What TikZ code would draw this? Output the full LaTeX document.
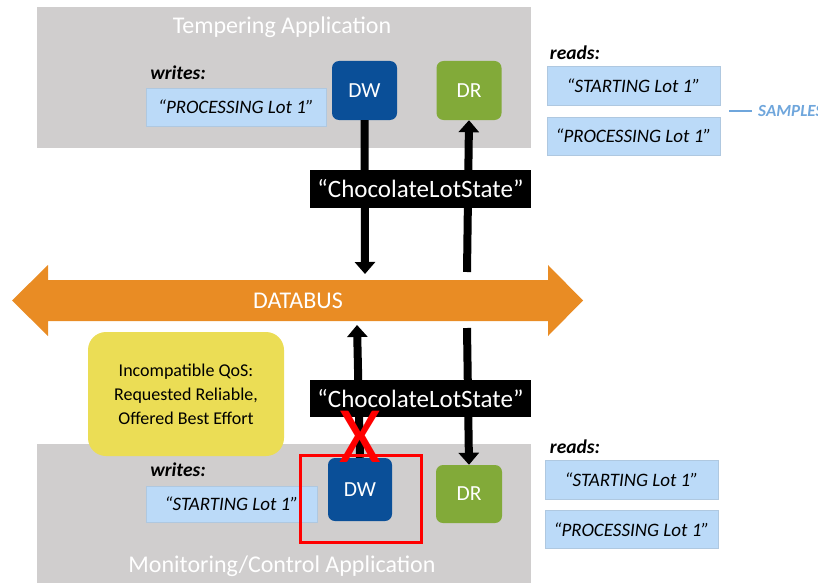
\documentclass[tikz,border=0pt]{standalone}
\usepackage{fontspec}
\setmainfont{Carlito}
\usetikzlibrary{arrows.meta}
\definecolor{appgray}{HTML}{D0CECE}
\definecolor{msgblue}{HTML}{BBDAF8}
\definecolor{dwblue}{HTML}{0A4F98}
\definecolor{drgreen}{HTML}{82AA39}
\definecolor{busorange}{HTML}{E98C24}
\definecolor{qosyellow}{HTML}{EBDD55}
\definecolor{smpblue}{HTML}{6FA6DC}
\tikzset{
  appbox/.style={fill=appgray, inner sep=0pt},
  apptitle/.style={text=white, font=\fontsize{24}{28}\selectfont},
  msgbox/.style={fill=msgblue, draw=msgblue!80!gray, line width=0.5pt, inner sep=0pt,
    minimum height=38pt, font=\fontsize{19}{22}\selectfont\itshape},
  entity/.style={rounded corners=7pt, inner sep=0pt, minimum width=65pt,
    minimum height=59pt, text=white, font=\fontsize{21.5}{24}\selectfont},
  topicbox/.style={fill=black, text=white, inner sep=0pt, minimum width=221pt,
    minimum height=38pt, font=\fontsize{25}{28}\selectfont},
  rolelabel/.style={font=\fontsize{19.5}{22}\selectfont\bfseries\itshape},
  flow/.style={line width=8pt, -{Triangle[width=20pt,length=12pt]}},
}
\begin{document}
\begin{tikzpicture}[x=1pt, y=-1pt]
  \useasboundingbox (0,0) rectangle (818,583);
  % applications
  \fill[appgray] (37,7) rectangle (531,148);
  \fill[appgray] (37,444) rectangle (531,583);
  \node[apptitle] (tempTitle) at (282,27) {Tempering Application};
  \node[apptitle] (monTitle) at (282,566) {Monitoring/Control Application};
  % databus
  \fill[busorange] (12,300.5) -- (48,265) -- (48,280) -- (548,280) -- (548,265)
    -- (583,300.5) -- (548,336) -- (548,321) -- (48,321) -- (48,336) -- cycle;
  \node[text=white, font=\fontsize{24}{28}\selectfont] (databus) at (298,300.5) {DATABUS};
  \coordinate (busTopW) at (365,274);
  \coordinate (busTopR) at (467,272);
  \coordinate (busBotW) at (357,325);
  \coordinate (busBotR) at (467,328);
  % tempering side
  \node[rolelabel] (tempWrites) at (178,73) {writes:};
  \node[msgbox, minimum width=180pt] (tempMsg) at (236,107) {``PROCESSING Lot 1''};
  \node[entity, fill=dwblue] (dwTop) at (364.5,90.5) {DW};
  \node[entity, fill=drgreen] (drTop) at (469,90.5) {DR};
  \draw[flow] (dwTop.south) -- (busTopW);
  \draw[flow] (busTopR) -- (drTop.south);
  \node[topicbox] (topicTop) at (420.5,189) {``ChocolateLotState''};
  % monitoring side
  \node[fill=qosyellow, rounded corners=18pt, minimum width=196pt, minimum height=124pt,
    align=center, font=\fontsize{18}{24}\selectfont] (qos) at (186,394)
    {Incompatible QoS:\\Requested Reliable,\\Offered Best Effort};
  \node[rolelabel] (monWrites) at (178,470) {writes:};
  \node[msgbox, minimum width=171pt, minimum height=36pt] (monMsg) at (231.5,504) {``STARTING Lot 1''};
  \node[entity, fill=dwblue, minimum width=64pt, minimum height=63pt] (dwBot) at (360,489.5) {DW};
  \node[entity, fill=drgreen, minimum width=66pt, minimum height=58pt] (drBot) at (469,494) {DR};
  \draw[flow] (dwBot.north) -- (busBotW);
  \draw[flow] (busBotR) -- (drBot.north);
  \node[topicbox, minimum height=37pt] (topicBot) at (420.5,398.5) {``ChocolateLotState''};
  \node[text=red, font=\fontsize{80}{80}\selectfont, inner sep=0pt] (noMatch) at (360,437) {X};
  \draw[red, line width=3pt] (300,455) rectangle (421,542);
  % readers
  \node[rolelabel] (topReads) at (575,53) {reads:};
  \node[msgbox, minimum width=173pt, minimum height=39pt] (topRead1) at (633.5,85.5) {``STARTING Lot 1''};
  \node[msgbox, minimum width=173pt] (topRead2) at (633.5,136) {``PROCESSING Lot 1''};
  \draw[smpblue, line width=2pt] (729,111) -- (752,111);
  \node[anchor=west, inner sep=0pt, text=smpblue, font=\fontsize{17}{20}\selectfont\bfseries\itshape]
    (samples) at (758,111) {SAMPLES};
  \node[rolelabel] (botReads) at (575,447) {reads:};
  \node[msgbox, minimum width=173pt, minimum height=39pt] (botRead1) at (631.5,479.5) {``STARTING Lot 1''};
  \node[msgbox, minimum width=173pt] (botRead2) at (631.5,529.5) {``PROCESSING Lot 1''};
\end{tikzpicture}
\end{document}
